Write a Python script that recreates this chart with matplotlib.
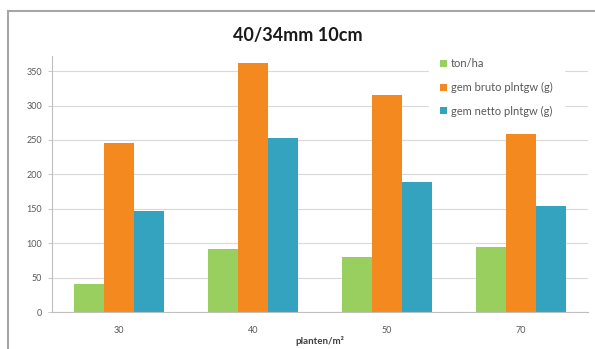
import numpy as np
import matplotlib
matplotlib.use("Agg")
import matplotlib.pyplot as plt
from matplotlib.patches import Rectangle

# plant density classes and measured values
categories = ["30", "40", "50", "70"]
ton_ha = [40, 91, 80, 95]
bruto = [245, 362, 315, 259]
netto = [147, 253, 189, 154]

series_names = ["ton/ha", "gem bruto plntgw (g)", "gem netto plntgw (g)"]
colors = ["#98CF5E", "#F48A1F", "#33A3C0"]

plt.rcParams["font.family"] = ["Lato", "DejaVu Sans"]

fig = plt.figure(figsize=(5.95, 3.49), dpi=100)
fig.patch.set_facecolor("white")

# chart frame, open to the right and bottom
frame = Rectangle((8 / 595, -0.1), 1.2, 1 - 11 / 349 + 0.1,
                  transform=fig.transFigure, fill=False,
                  edgecolor="#A6A6A6", linewidth=1.5)
fig.patches.append(frame)

ax = fig.add_axes([52 / 595, 37 / 349, 536 / 595, 256 / 349])

x = np.arange(len(categories))
w = 0.224
for i, (vals, name, c) in enumerate(zip([ton_ha, bruto, netto], series_names, colors)):
    ax.bar(x + (i - 1) * w, vals, width=w, color=c, label=name, zorder=2)

ax.set_xlim(-0.5, len(categories) - 0.5)
ax.set_ylim(0, 372)
ax.set_yticks(range(0, 351, 50))
ax.set_xticks(x)
ax.set_xticklabels(categories)
ax.grid(axis="y", color="#D9D9D9", linewidth=0.8, zorder=0)
ax.set_axisbelow(True)

for s in ["top", "right"]:
    ax.spines[s].set_visible(False)
for s in ["left", "bottom"]:
    ax.spines[s].set_color("#BFBFBF")
    ax.spines[s].set_linewidth(0.8)

ax.tick_params(axis="y", labelsize=6.5, colors="#595959", length=3, width=0.6,
               color="#BFBFBF", pad=4)
ax.tick_params(axis="x", labelsize=6.5, colors="#595959", length=0, pad=10)

ax.set_xlabel("planten/m²", fontsize=7, fontweight="bold", color="#404040", labelpad=1)
fig.text(0.5, 1 - 36 / 349, "40/34mm 10cm", ha="center", va="center",
         fontsize=13, fontweight="bold", color="#1a1a1a")

leg = ax.legend(loc="upper left", bbox_to_anchor=(0.703, 1.035), fontsize=8,
                frameon=True, fancybox=False, framealpha=1, edgecolor="white",
                handlelength=0.6, handleheight=0.6, handletextpad=0.4,
                labelspacing=1.15, borderpad=1.0, borderaxespad=0)
for t in leg.get_texts():
    t.set_color("#595959")

fig.savefig("out.png", dpi=100, facecolor="white")
